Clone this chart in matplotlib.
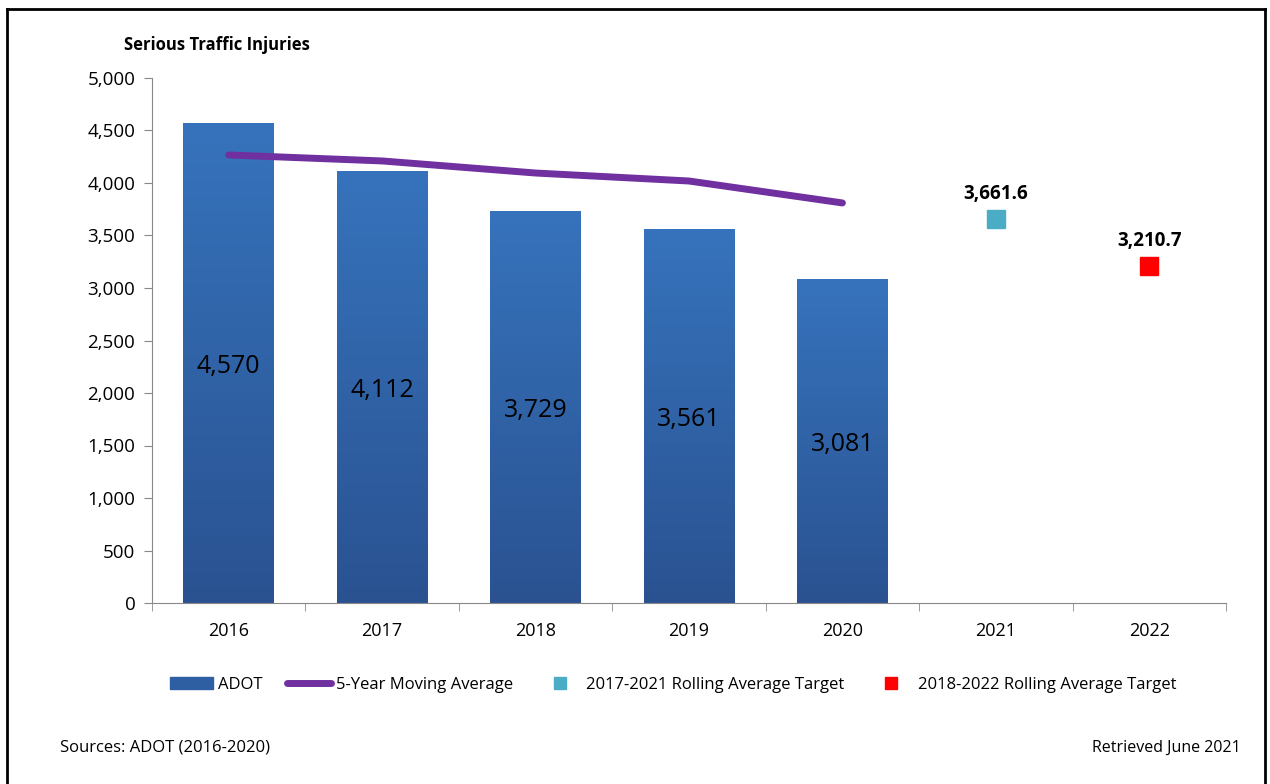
import matplotlib
matplotlib.use("Agg")
import matplotlib.pyplot as plt
import numpy as np
from matplotlib.lines import Line2D
from matplotlib.patches import Rectangle
from matplotlib.colors import LinearSegmentedColormap

years = ["2016", "2017", "2018", "2019", "2020", "2021", "2022"]
adot = [4570, 4112, 3729, 3561, 3081]
adot_labels = ["4,570", "4,112", "3,729", "3,561", "3,081"]
moving_avg = [4267, 4210, 4095, 4019, 3810]
target_2021 = 3661.6
target_2022 = 3210.7

plt.rcParams['font.family'] = ['Open Sans', 'DejaVu Sans']

fig = plt.figure(figsize=(12.7, 7.84), dpi=100)
ax = fig.add_axes([152/1270, 1-603/784, (1226-152)/1270, (603-78)/784])

x = np.arange(len(years))
bw = 0.59
bars = ax.bar(x[:5], adot, width=bw, color='#3370b8', zorder=2)
grad = np.linspace(0, 1, 256).reshape(-1, 1)
cmap = LinearSegmentedColormap.from_list('g', ['#2a5291', '#3673bc'])
for b in bars:
    b.set_facecolor('none')
    im = ax.imshow(grad, cmap=cmap, origin='lower', aspect='auto',
                   extent=[b.get_x(), b.get_x()+b.get_width(), 0, b.get_height()], zorder=2)
    im.set_clip_path(b)
for xi, v, lab in zip(x[:5], adot, adot_labels):
    ax.text(xi, v/2 - 30, lab, ha='center', va='center', fontsize=18, color='black', zorder=4)

ax.plot(x[:5], moving_avg, color='#7030a0', lw=5, solid_capstyle='round', zorder=3)
ax.plot([x[5]], [target_2021], marker='s', ms=13, color='#4bacc6', ls='none', zorder=3)
ax.plot([x[6]], [target_2022], marker='s', ms=13, color='#ff0000', ls='none', zorder=3)
ax.text(x[5], target_2021 + 140, "3,661.6", ha='center', va='bottom', fontsize=13.5, fontweight='bold')
ax.text(x[6], target_2022 + 140, "3,210.7", ha='center', va='bottom', fontsize=13.5, fontweight='bold')

ax.set_xlim(-0.5, 6.5)
ax.set_ylim(0, 5000)
ax.set_yticks(np.arange(0, 5001, 500))
ax.set_yticklabels([f"{v:,}" for v in range(0, 5001, 500)], fontsize=13.5)
ax.set_xticks(x)
ax.set_xticklabels(years, fontsize=13)
ax.set_xticks(np.arange(-0.5, 7.0, 1), minor=True)
ax.tick_params(axis='x', which='major', length=0, pad=14)
ax.tick_params(axis='x', which='minor', length=6, color='#898989', direction='out')
ax.tick_params(axis='y', length=6, color='#898989', pad=6)
for s in ['top', 'right']:
    ax.spines[s].set_visible(False)
ax.spines['left'].set_color('#898989')
ax.spines['bottom'].set_color('#898989')
ax.set_xlim(-0.5, 6.5)

fig.text(124/1270, 1-45/784, "Serious Traffic Injuries", fontsize=12, fontweight='bold', va='center', ha='left')

handles = [
    Rectangle((0, 0), 1, 1, color='#2f5fa3'),
    Line2D([], [], color='#7030a0', lw=5, solid_capstyle='round'),
    Line2D([], [], marker='s', ms=9, color='#4bacc6', ls='none'),
    Line2D([], [], marker='s', ms=9, color='#ff0000', ls='none'),
]
labels = ["ADOT", "5-Year Moving Average", "2017-2021 Rolling Average Target", "2018-2022 Rolling Average Target"]
fig.legend(handles, labels, loc='center', bbox_to_anchor=(673/1270, 1-685/784), ncol=4,
           frameon=False, fontsize=12, handlelength=2.6, columnspacing=1.5, handletextpad=0.3)

fig.text(60/1270, 1-748/784, "Sources: ADOT (2016-2020)", fontsize=12, va='center', ha='left')
fig.text(1241/1270, 1-748/784, "Retrieved June 2021", fontsize=11.5, va='center', ha='right')

fig.add_artist(Line2D([7/1270, 7/1270], [0, 1-9/784], color='black', lw=2, transform=fig.transFigure))
fig.add_artist(Line2D([7/1270, 1265/1270], [1-9/784, 1-9/784], color='black', lw=2, transform=fig.transFigure))
fig.add_artist(Line2D([1265/1270, 1265/1270], [0, 1-9/784], color='black', lw=2, transform=fig.transFigure))

fig.savefig("out.png", dpi=100)
